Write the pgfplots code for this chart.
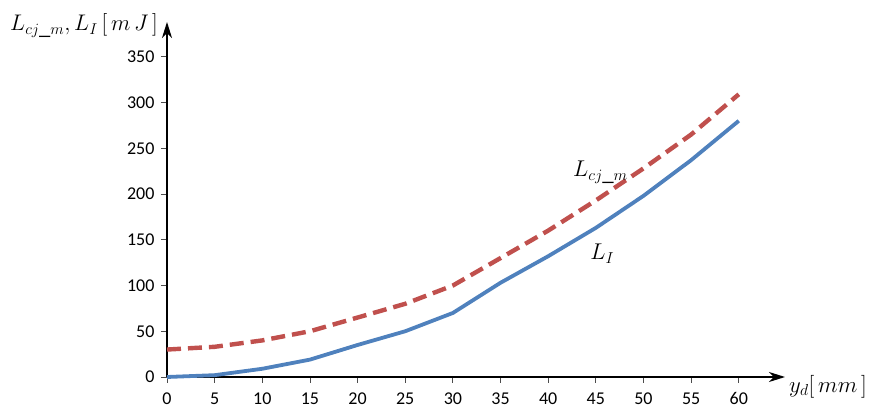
\documentclass[border=0pt]{standalone}
\usepackage{fontspec}
\setmainfont{Carlito}
\usepackage{pgfplots}
\pgfplotsset{compat=1.18}
\usetikzlibrary{arrows.meta}
\definecolor{exred}{RGB}{192,80,77}
\definecolor{exblue}{RGB}{79,129,189}
\tikzset{mlab/.style={inner sep=0pt, font=\fontsize{20.74}{24}\selectfont, transform shape, scale=1.1}}
\begin{document}
\begin{tikzpicture}
\begin{axis}[
  at={(0,0)}, anchor=origin,
  scale only axis,
  width=618pt, height=355pt,
  xmin=0, xmax=64.85, ymin=0, ymax=388,
  axis lines=left,
  axis line style={line width=1.6pt, -{Stealth[length=16pt,width=10pt,inset=5pt]}},
  xtick={0,5,...,60}, ytick={0,50,...,350},
  tick align=outside,
  major tick length=6pt,
  tick style={black!70, line width=0.8pt},
  tick label style={font=\fontsize{18}{20}\selectfont},
  /pgf/number format/assume math mode=true,
  xticklabel style={yshift=-6pt},
  yticklabel style={xshift=-3pt},
  clip=false,
]
\addplot[exred, line width=4.4pt, dash pattern=on 14pt off 7pt] coordinates {
(0,30) (5,33) (10,40) (15,50) (20,65) (25,80) (30,100) (35,130) (40,160) (45,193) (50,228) (55,265) (60,309)};
\addplot[exblue, line width=3.8pt] coordinates {
(0,0) (5,2) (10,9) (15,19) (20,35) (25,50) (30,70) (35,103) (40,132) (45,163) (50,198) (55,237) (60,280)};
\node[anchor=base west, mlab] at (axis cs:42.6,219) {$L_{cj\_m}$};
\node[anchor=base west, mlab] at (axis cs:44.4,128) {$L_I$};
\end{axis}
\node[anchor=base west, mlab, scale=0.99] at (-157pt,346pt) {$L_{cj\_m},L_I\,[\,m\,J\,]$};
\node[anchor=base west, mlab] at (622pt,-15pt) {$y_d[\,mm\,]$};
\pgfresetboundingbox
\path (-167pt,-32pt) rectangle (702pt,377pt);
\end{tikzpicture}
\end{document}
